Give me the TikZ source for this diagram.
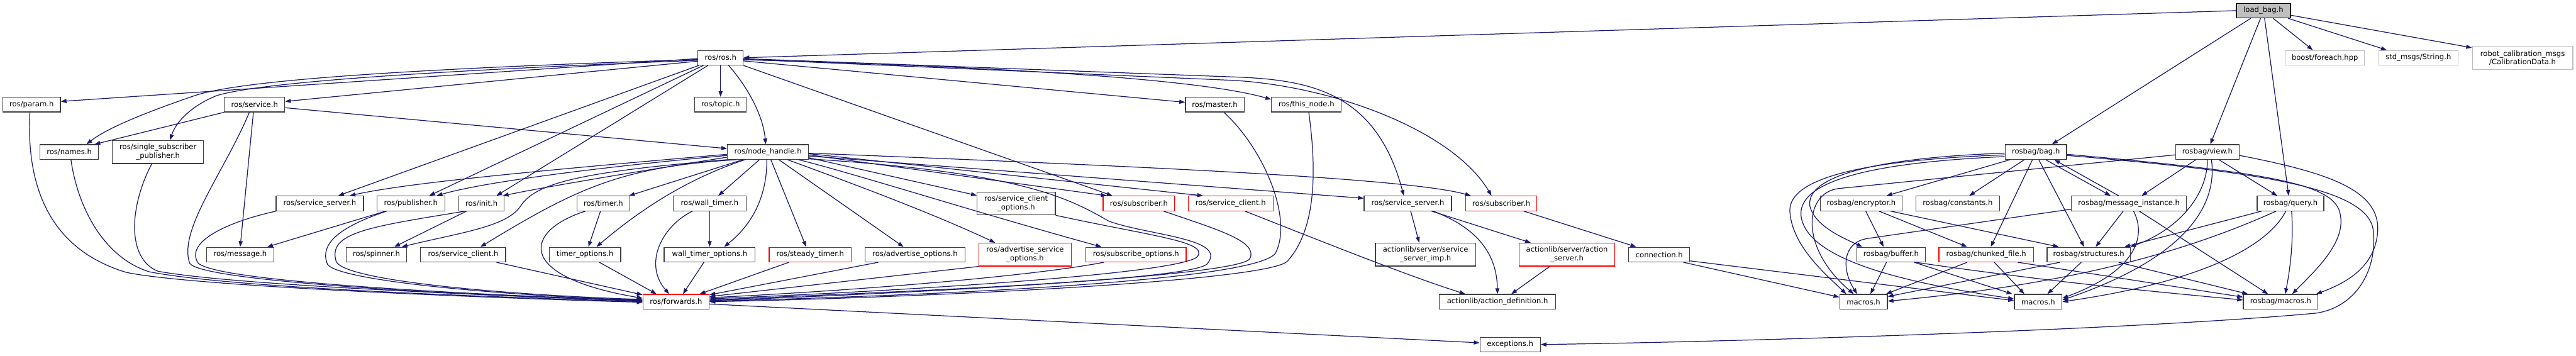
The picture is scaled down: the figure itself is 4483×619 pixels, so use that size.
\documentclass[tikz,border=0pt]{standalone}
\usepackage{fontspec}
\setmainfont{DejaVu Sans}
\usetikzlibrary{arrows.meta}
\definecolor{edgecol}{HTML}{191970}
\definecolor{nodered}{HTML}{FF0000}
\definecolor{nodegray}{HTML}{BFBFBF}
\definecolor{nodeborder}{HTML}{404040}
\tikzset{
  box/.style={draw=nodeborder, line width=1.3pt, fill=white, inner sep=0pt,
    minimum height=25.5pt, align=center, font=\fontsize{12.7pt}{15pt}\selectfont},
  bw/.style={minimum width=#1pt},
  tall/.style={minimum height=40pt},
  redbox/.style={box, draw=nodered},
  graybox/.style={box, draw=nodegray},
  e/.style={draw=edgecol, line width=1.35pt, -{Triangle[length=10pt,width=7pt]}},
}
\begin{document}
\begin{tikzpicture}[x=1pt,y=-1pt]
\useasboundingbox (0,0) rectangle (4483,619);
% ---- nodes
\node[box,bw=94,fill=nodegray,draw=black] (root) at (3939,18.5) {load\_bag.h};
\node[box,bw=78.5] (ros) at (1254,100.5) {ros/ros.h};
\node[graybox,bw=138] (foreach) at (4046,100.5) {boost/foreach.hpp};
\node[graybox,bw=138] (stdstr) at (4208.6,100.5) {std\_msgs/String.h};
\node[graybox,bw=175,tall] (calib) at (4390,100.7) {robot\_calibration\_msgs\\/CalibrationData.h};
\node[box,bw=100] (param) at (55,182) {ros/param.h};
\node[box,bw=105] (service) at (443,182) {ros/service.h};
\node[box,bw=90] (topic) at (1254,182) {ros/topic.h};
\node[box,bw=102] (master) at (2114,182) {ros/master.h};
\node[box,bw=121.5] (thisnode) at (2273.6,182) {ros/this\_node.h};
\node[box,bw=102] (names) at (120.5,264.5) {ros/names.h};
\node[box,bw=158.5,tall] (ssp) at (275,264.5) {ros/single\_subscriber\\\_publisher.h};
\node[box,bw=141] (nh) at (1336.5,264.5) {ros/node\_handle.h};
\node[box,bw=107] (bag) at (3543,264.5) {rosbag/bag.h};
\node[box,bw=111] (view) at (3841.5,264.5) {rosbag/view.h};
\node[box,bw=152] (ssrvL) at (556.5,354) {ros/service\_server.h};
\node[box,bw=118] (pub) at (715,354) {ros/publisher.h};
\node[box,bw=78.5] (init) at (838,354) {ros/init.h};
\node[box,bw=92] (timer) at (1050,354) {ros/timer.h};
\node[box,bw=127] (wtimer) at (1235,354) {ros/wall\_timer.h};
\node[box,bw=136,tall] (sco) at (1768.5,354) {ros/service\_client\\\_options.h};
\node[redbox,bw=124.5] (subL) at (1982,354) {ros/subscriber.h};
\node[redbox,bw=148] (sclR) at (2141.6,354) {ros/service\_client.h};
\node[box,bw=152] (ssrvR) at (2450,354) {ros/service\_server.h};
\node[redbox,bw=124] (subR) at (2612.7,354) {ros/subscriber.h};
\node[box,bw=143] (enc) at (3239,354) {rosbag/encryptor.h};
\node[box,bw=146] (cst) at (3407,354) {rosbag/constants.h};
\node[box,bw=200] (mi) at (3705,354) {rosbag/message\_instance.h};
\node[box,bw=116] (query) at (3986,354) {rosbag/query.h};
\node[box,bw=117] (msg) at (418,443) {ros/message.h};
\node[box,bw=105] (spin) at (655,443) {ros/spinner.h};
\node[box,bw=148] (sclB) at (806,443) {ros/service\_client.h};
\node[box,bw=124.6] (topt) at (1018,443) {timer\_options.h};
\node[box,bw=158.5] (wtopt) at (1235,443) {wall\_timer\_options.h};
\node[redbox,bw=143] (steady) at (1410,443) {ros/steady\_timer.h};
\node[box,bw=174.5] (advopt) at (1592.5,443) {ros/advertise\_options.h};
\node[redbox,bw=161,tall] (advsopt) at (1784,443) {ros/advertise\_service\\\_options.h};
\node[redbox,bw=174.5] (subopt) at (1977,443) {ros/subscribe\_options.h};
\node[box,bw=174.5,tall] (ssimp) at (2480.8,443) {actionlib/server/service\\\_server\_imp.h};
\node[redbox,bw=166,tall] (aserv) at (2727,443) {actionlib/server/action\\\_server.h};
\node[box,bw=106] (conn) at (2887.5,443) {connection.h};
\node[box,bw=119] (buf) at (3291,443) {rosbag/buffer.h};
\node[redbox,bw=164.7] (chunk) at (3456.5,443) {rosbag/chunked\_file.h};
\node[box,bw=145] (strc) at (3635,443) {rosbag/structures.h};
\node[redbox,bw=115] (fwd) at (1176.5,525) {ros/forwards.h};
\node[box,bw=202.6] (adef) at (2606,525) {actionlib/action\_definition.h};
\node[box,bw=83] (mac1) at (3243,525) {macros.h};
\node[box,bw=83] (mac2) at (3547,525) {macros.h};
\node[box,bw=130] (rmac) at (3969,525) {rosbag/macros.h};
\node[box,bw=105] (exc) at (2628,599.5) {exceptions.h};
% ---- load_bag.h
\draw[e] (root.west) -- (ros.east);
\draw[e] ([xshift=-22]root.south) -- ([xshift=28]bag.north);
\draw[e] ([xshift=-5]root.south) -- ([xshift=5]view.north);
\draw[e] ([xshift=2]root.south) -- ([xshift=-3]query.north);
\draw[e] ([xshift=17]root.south) -- ([xshift=-21]foreach.north);
\draw[e] ([xshift=43]root.south) -- ([xshift=-55]stdstr.north);
\draw[e] ([yshift=-8]root.east) -- ([yshift=-3]calib.north west);
% ---- ros/ros.h
\draw[e] ([yshift=-1.5]ros.west) -- ([yshift=5.5]param.east);
\draw[e] ([yshift=-3]ros.west) .. controls (700,120) and (420,140) .. (340,166) .. controls (270,190) and (190,220) .. ([xshift=30]names.north);
\draw[e] ([yshift=-4.5]ros.west) .. controls (700,125) and (450,145) .. (378,166) .. controls (330,185) and (305,215) .. ([xshift=21]ssp.north);
\draw[e] ([yshift=-6]ros.west) -- ([yshift=5.5]service.east);
\draw[e] ([xshift=-38]ros.south) -- ([xshift=32]ssrvL.north);
\draw[e] ([xshift=-30]ros.south) -- ([xshift=32]pub.north);
\draw[e] ([xshift=-22]ros.south) -- ([xshift=26]init.north);
\draw[e] (ros.south) -- (topic.north);
\draw[e] ([xshift=14]ros.south) .. controls (1300,150) and (1328,200) .. ([xshift=-4]nh.north);
\draw[e] ([yshift=-5.5]ros.east) -- ([yshift=4]master.west);
\draw[e] ([yshift=-3.5]ros.east) .. controls (1700,115) and (2080,135) .. ([yshift=9]thisnode.west);
\draw[e] ([yshift=-1.5]ros.east) -- (2150,134) .. controls (2280,139) and (2395,160) .. ([xshift=-7]ssrvR.north);
\draw[e] ([yshift=-2.5]ros.east) -- (2150,140) .. controls (2330,152) and (2530,230) .. ([xshift=-17]subR.north);
\draw[e] (ros.south east) -- ([xshift=-46]subL.north);
% ---- ros/service.h
\draw[e] (service.south west) -- ([xshift=44]names.north);
\draw[e] ([xshift=-2]service.south) -- (msg.north);
\draw[e] ([xshift=-9]service.south) .. controls (390,300) and (310,400) .. (330,458) .. controls (350,490) and (800,514) .. ([yshift=2]fwd.west);
\draw[e] ([yshift=-5.5]service.east) -- ([yshift=6]nh.west);
% ---- left cluster to forwards
\draw[e] ([xshift=-3]param.south) .. controls (45,330) and (90,435) .. (220,474) .. controls (330,497) and (800,517) .. ([yshift=-1]fwd.west);
\draw[e] ([xshift=3]names.south) .. controls (135,360) and (180,448) .. (260,473) .. controls (400,500) and (800,515) .. (fwd.west);
\draw[e] ([xshift=-11]ssp.south) .. controls (225,360) and (220,450) .. (275,472) .. controls (400,495) and (800,512) .. ([yshift=1]fwd.west);
\draw[e] ([xshift=-76]ssrvL.south) .. controls (400,385) and (320,420) .. (345,458) .. controls (380,490) and (800,512) .. ([yshift=2]fwd.west);
\draw[e] ([xshift=-42]pub.south) .. controls (590,395) and (555,425) .. (570,460) .. controls (590,490) and (900,516) .. ([yshift=3]fwd.west);
\draw[e] ([xshift=-28]init.south) .. controls (640,395) and (570,405) .. (585,455) .. controls (600,490) and (900,514) .. ([yshift=4]fwd.west);
\draw[e] ([xshift=-44]pub.south) -- ([xshift=47]msg.north);
\draw[e] ([xshift=-26]init.south) -- ([xshift=31]spin.north);
\draw[e] ([xshift=58]sclB.south) -- ([yshift=12]fwd.west);
% ---- ros/node_handle.h
\draw[e] ([yshift=-4]nh.west) .. controls (900,300) and (700,320) .. ([xshift=52]ssrvL.north);
\draw[e] ([yshift=-6]nh.west) .. controls (1000,295) and (830,320) .. ([xshift=45]pub.north);
\draw[e] ([yshift=-9]nh.west) .. controls (1100,300) and (950,325) .. ([xshift=37]init.north);
\draw[e] (nh.south west) .. controls (1000,300) and (930,320) .. (905,360) .. controls (880,395) and (800,405) .. ([xshift=44]spin.north);
\draw[e] ([xshift=-55]nh.south) .. controls (1080,290) and (1000,330) .. ([xshift=30]sclB.north);
\draw[e] ([xshift=-44]nh.south) -- ([xshift=-2]timer.north east);
\draw[e] ([xshift=-40]nh.south) .. controls (1200,310) and (1120,360) .. ([xshift=20]topt.north);
\draw[e] ([xshift=-15]nh.south) -- ([xshift=15]wtimer.north);
\draw[e] ([xshift=-2]nh.south) .. controls (1335,340) and (1310,390) .. ([xshift=25]wtopt.north);
\draw[e] ([xshift=5]nh.south) -- ([xshift=-7]steady.north);
\draw[e] ([xshift=19]nh.south) -- ([xshift=-20]advopt.north);
\draw[e] ([xshift=34]nh.south) .. controls (1480,318) and (1620,370) .. ([xshift=-52]advsopt.north);
\draw[e] ([xshift=53]nh.south) .. controls (1480,300) and (1700,370) .. ([xshift=-60]subopt.north);
\draw[e] ([yshift=-10]nh.east) -- ([yshift=14]sco.west);
\draw[e] ([yshift=-5]nh.east) -- ([xshift=-56]subL.north);
\draw[e] ([yshift=-3]nh.east) -- ([xshift=-48]sclR.north);
\draw[e] ([yshift=-2]nh.east) .. controls (2000,290) and (2450,310) .. ([xshift=-53]subR.north);
\draw[e] ([yshift=-7]nh.east) -- ([yshift=9]ssrvR.west);
\draw[e] ([yshift=-12]nh.east) .. controls (1780,300) and (1860,345) .. (1930,385) .. controls (2000,410) and (2140,415) .. (2100,460) .. controls (2060,490) and (1500,510) .. ([yshift=3]fwd.east);
% ---- to forwards from the right
\draw[e] (sco.south east) .. controls (2000,410) and (2100,420) .. (2085,445) .. controls (2070,475) and (1600,505) .. ([yshift=5]fwd.east);
\draw[e] ([xshift=43]subL.south) .. controls (2120,400) and (2190,420) .. (2175,450) .. controls (2160,480) and (1600,510) .. ([yshift=2]fwd.east);
\draw[e] ([xshift=16]master.south) .. controls (2200,260) and (2250,380) .. (2220,440) .. controls (2190,490) and (1600,515) .. ([yshift=1]fwd.east);
\draw[e] ([xshift=4]thisnode.south) .. controls (2292,300) and (2290,400) .. (2240,455) .. controls (2200,490) and (1600,518) .. (fwd.east);
\draw[e] ([xshift=-31]timer.south) .. controls (915,400) and (890,480) .. ([yshift=6]fwd.west);
\draw[e] ([xshift=-5]timer.south) -- ([xshift=6]topt.north);
\draw[e] ([xshift=25]topt.south) -- ([xshift=-34]fwd.north);
\draw[e] (wtimer.south) -- (wtopt.north);
\draw[e] ([xshift=-30]wtimer.south) .. controls (1150,395) and (1120,460) .. ([xshift=-12]fwd.north);
\draw[e] ([xshift=-10]wtopt.south) -- ([xshift=12]fwd.north);
\draw[e] ([xshift=-37]steady.south) -- ([xshift=41]fwd.north);
\draw[e] ([xshift=-64]advopt.south) -- ([yshift=12]fwd.east);
\draw[e] (advsopt.south west) -- ([yshift=9]fwd.east);
\draw[e] ([xshift=-56]subopt.south) .. controls (1800,480) and (1500,505) .. ([yshift=7]fwd.east);
\draw[e] ([yshift=-4]fwd.east) -- ([yshift=3]exc.west);
% ---- actionlib / connection
\draw[e] ([xshift=5]ssrvR.south) -- ([xshift=-11]ssimp.north);
\draw[e] ([xshift=41]ssrvR.south) -- ([xshift=-63]aserv.north);
\draw[e] ([xshift=44]ssrvR.south) .. controls (2580,400) and (2605,450) .. (adef.north);
\draw[e] ([xshift=-30]aserv.south) -- ([xshift=24]adef.north);
\draw[e] ([xshift=25]sclR.south) .. controls (2300,420) and (2450,480) .. ([xshift=-56]adef.north);
\draw[e] ([xshift=39]subR.south) -- ([xshift=-40]conn.north);
\draw[e] ([xshift=42]conn.south) -- ([yshift=8]mac1.west);
\draw[e] ([yshift=-11]conn.east) -- ([yshift=2]mac2.west);
% ---- rosbag
\draw[e] ([xshift=-45]bag.south) -- ([xshift=44]enc.north);
\draw[e] ([xshift=-20]bag.south) -- ([xshift=20]cst.north);
\draw[e] ([xshift=-6]bag.south) -- ([xshift=8]chunk.north);
\draw[e] ([xshift=5]bag.south) -- ([xshift=-8]strc.north);
\draw[e] ([xshift=17]bag.south) -- ([xshift=-32]mi.north);
\draw[e] ([xshift=-18]mi.north) -- ([xshift=32]bag.south);
\draw[e] ([yshift=-2]bag.west) .. controls (3250,275) and (3140,310) .. (3150,360) .. controls (3160,395) and (3210,415) .. ([xshift=-50]buf.north);
\draw[e] ([yshift=-5]bag.west) .. controls (3200,280) and (3110,320) .. (3115,370) .. controls (3120,430) and (3180,480) .. ([xshift=-30]mac1.north);
\draw[e] ([yshift=-8]bag.west) .. controls (3200,285) and (3125,330) .. (3135,380) .. controls (3150,450) and (3300,490) .. ([yshift=5]mac2.west);
\draw[e] ([yshift=-5]view.west) -- (3200,328) .. controls (3140,335) and (3130,430) .. ([xshift=-17]mac1.north);
\draw[e] ([yshift=-10]mi.west) -- (3250,415) .. controls (3205,422) and (3205,470) .. ([xshift=-11]mac1.north);
\draw[e] ([xshift=8]enc.south) -- ([xshift=-13]buf.north);
\draw[e] ([xshift=31]enc.south) -- ([xshift=-33]chunk.north);
\draw[e] ([xshift=51]enc.south) -- ([xshift=-52]strc.north);
\draw[e] ([xshift=-8]buf.south) -- ([xshift=12]mac1.north);
\draw[e] ([xshift=40]buf.south) -- ([xshift=-45]mac2.north);
\draw[e] ([xshift=42]buf.south) .. controls (3600,495) and (3800,512) .. ([yshift=3]rmac.west);
\draw[e] ([xshift=-33]chunk.south) -- ([xshift=-3]mac1.north east);
\draw[e] ([xshift=14]chunk.south) -- ([xshift=-24]mac2.north);
\draw[e] ([xshift=55]chunk.south) -- ([yshift=8]rmac.west);
\draw[e] ([xshift=-50]strc.south) -- ([yshift=9]mac1.east);
\draw[e] ([xshift=-13]strc.south) -- ([xshift=16]mac2.north);
\draw[e] ([xshift=52]strc.south) -- ([xshift=-57]rmac.north);
\draw[e] ([xshift=-10]mi.south) -- ([xshift=12]strc.north);
\draw[e] ([xshift=18]mi.south) -- ([xshift=-22]rmac.north);
\draw[e] ([xshift=8]mi.south) .. controls (3735,410) and (3720,470) .. ([yshift=6]mac2.east);
\draw[e] ([xshift=-20]view.south) -- ([xshift=22]mi.north);
\draw[e] ([xshift=20]view.south) -- ([xshift=-23]query.north);
\draw[e] (view.south) .. controls (3842,340) and (3790,400) .. ([xshift=-1]strc.north east);
\draw[e] ([xshift=7]view.south) .. controls (3860,360) and (3800,450) .. ([yshift=3]mac2.east);
\draw[e] ([xshift=-50]query.south) -- ([xshift=62]strc.north);
\draw[e] ([xshift=-25]query.south) .. controls (3800,440) and (3600,495) .. ([yshift=1]mac1.east);
\draw[e] ([xshift=-8]query.south) .. controls (3940,440) and (3800,495) .. (mac2.east);
\draw[e] ([xshift=2]query.south) .. controls (3992,420) and (3985,470) .. ([xshift=8]rmac.north);
\draw[e] ([yshift=-4]bag.east) .. controls (3950,300) and (4060,320) .. (4072,370) .. controls (4085,420) and (4030,470) .. ([xshift=20]rmac.north);
\draw[e] ([yshift=-6]bag.east) .. controls (3950,300) and (4120,330) .. (4130,400) .. controls (4138,470) and (4100,535) .. (4030,545) .. controls (3700,575) and (3000,595) .. (exc.east);
\draw[e] ([yshift=-6]view.east) .. controls (4050,300) and (4140,330) .. (4138,400) .. controls (4135,460) and (4090,490) .. ([xshift=-4]rmac.north east);
\end{tikzpicture}
\end{document}
